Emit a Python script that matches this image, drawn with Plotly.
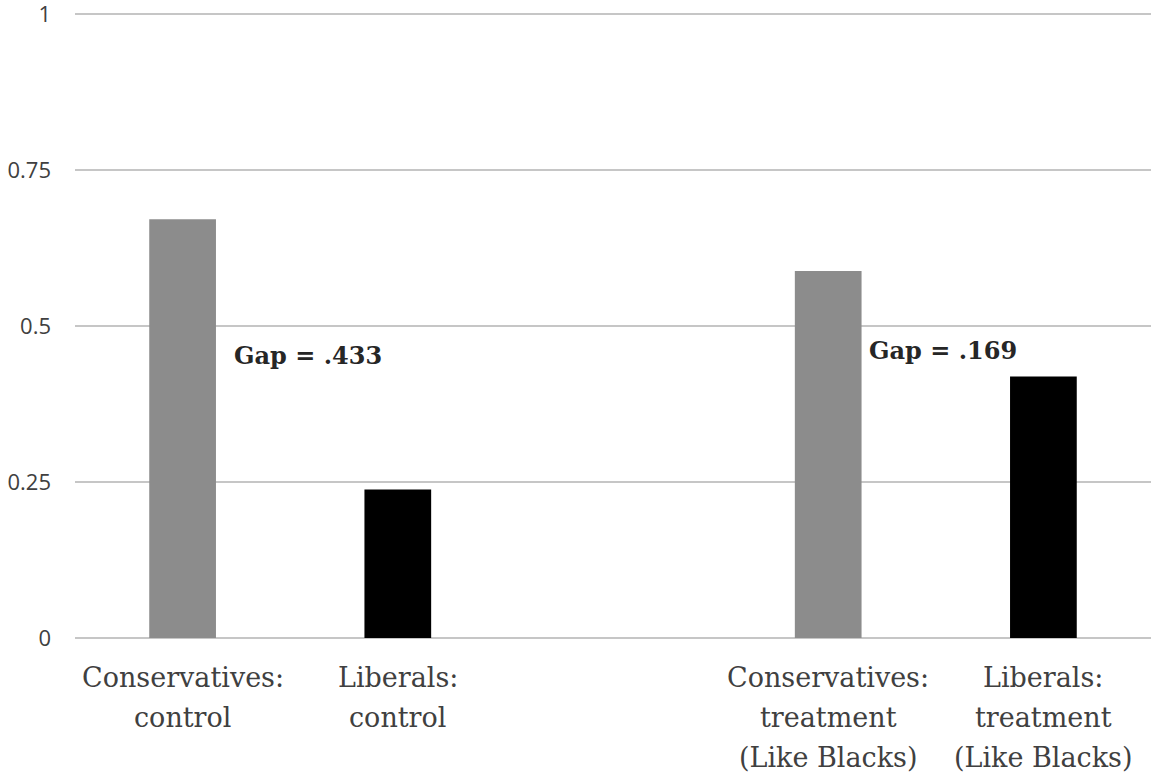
import plotly.graph_objects as go

# Data
positions = [0, 1, 3, 4]
values = [0.671, 0.238, 0.588, 0.419]
bar_colors = ["#8c8c8c", "#000000", "#8c8c8c", "#000000"]
category_labels = [
    ["Conservatives:", "control"],
    ["Liberals:", "control"],
    ["Conservatives:", "treatment", "(Like Blacks)"],
    ["Liberals:", "treatment", "(Like Blacks)"],
]
gap_texts = ["Gap = .433", "Gap = .169"]
gap_x = [0.23, 3.18]
gap_y = [0.452, 0.46]
y_ticks = [0, 0.25, 0.5, 0.75, 1]
y_ticktext = ["0", "0.25", "0.5", "0.75", "1"]

fig = go.Figure()
fig.add_trace(go.Bar(
    x=positions, y=values, width=0.31,
    marker=dict(color=bar_colors, line=dict(width=0)),
    showlegend=False, hoverinfo="skip",
))

annotations = []
for xpos, lines in zip(positions, category_labels):
    for i, line in enumerate(lines):
        annotations.append(dict(
            x=xpos, y=0, xref="x", yref="paper", text=line, showarrow=False,
            xanchor="center", yanchor="middle", yshift=-(39 + 40 * i),
            font=dict(family="DejaVu Serif", size=27, color="#404040"),
        ))
for t, gx, gy in zip(gap_texts, gap_x, gap_y):
    annotations.append(dict(
        x=gx, y=gy, xref="x", yref="y", text="<b>" + t + "</b>", showarrow=False,
        xanchor="left", yanchor="middle",
        font=dict(family="DejaVu Serif", size=24, color="#262626"),
    ))

fig.update_layout(
    width=1155, height=774,
    margin=dict(l=75, r=4, t=12, b=136, autoexpand=False),
    plot_bgcolor="white", paper_bgcolor="white",
    annotations=annotations,
    xaxis=dict(range=[-0.5, 4.5], showticklabels=False, showgrid=False,
               zeroline=False, showline=False, ticks="", automargin=False),
    yaxis=dict(range=[0, 1.003], tickvals=y_ticks, ticktext=y_ticktext,
               showgrid=True, gridcolor="#c6c6c6", gridwidth=2,
               zeroline=True, zerolinecolor="#c6c6c6", zerolinewidth=2,
               showline=False, ticks="", ticklabelstandoff=23, automargin=False,
               ticklabeloverflow="allow",
               tickfont=dict(family="Open Sans", size=22, color="#404040")),
)

fig.write_html(
    "out.html",
    config={"displayModeBar": False},
    post_script="document.body.style.margin='0';document.body.style.overflow='hidden';",
)
